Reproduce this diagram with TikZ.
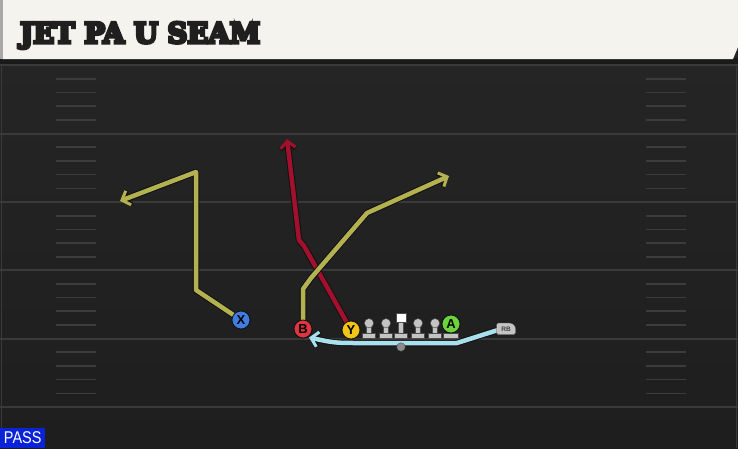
\documentclass[tikz,border=0pt]{standalone}
\usepackage{fontspec}
\usepackage{graphicx}
\setmainfont{Liberation Sans}
\newfontfamily\titlefont{DejaVu Serif}
\usetikzlibrary{arrows.meta}
\definecolor{fieldtop}{HTML}{262626}
\definecolor{fieldbot}{HTML}{1E1E1E}
\definecolor{yardc}{HTML}{3A3A3A}
\definecolor{hashc}{HTML}{3C3C3C}
\definecolor{cream}{HTML}{F5F3EE}
\definecolor{stripc}{HTML}{1A1A1A}
\definecolor{edgec}{HTML}{A8A8A8}
\definecolor{routeyel}{HTML}{B3B150}
\definecolor{routered}{HTML}{A3102E}
\definecolor{routeblue}{HTML}{A8E0EE}
\definecolor{outlinec}{HTML}{111111}
\definecolor{xblue}{HTML}{3F7EE0}
\definecolor{bred}{HTML}{E0343F}
\definecolor{yyel}{HTML}{F2C318}
\definecolor{agreen}{HTML}{6AD43A}
\definecolor{linegrey}{HTML}{C4C4C4}
\definecolor{passblue}{HTML}{0A22D8}
\tikzset{
  route/.style={line width=4.5pt, line join=round, line cap=round,
    preaction={draw=outlinec, line width=6.5pt, line join=round,
      -{Straight Barb[length=7pt,width=15pt,line width=4.5pt]}}},
  tip/.style={-{Straight Barb[length=7pt,width=15pt,line width=3pt]}},
  player/.style={circle, draw=outlinec, line width=0.8pt, minimum size=18pt,
    inner sep=0pt, font=\bfseries\fontsize{13}{13}\selectfont, text=black},
  yard/.style={draw=yardc, line width=2pt},
  hashm/.style={draw=hashc, line width=1.6pt},
  olm/.style={fill=linegrey, draw=black!70, line width=0.4pt}
}
\newcommand{\olman}[1]{%
  \fill[olm] (#1-6.5,333) rectangle (#1+6.5,337.8);
  \fill[olm] (#1-2.5,325) rectangle (#1+2.5,333.2);
  \fill[olm] (#1,323.2) circle (4.6pt);
}
\begin{document}
\begin{tikzpicture}[x=1pt,y=-1pt]
\useasboundingbox (0,0) rectangle (738,448);
% field
\shade[top color=fieldtop, bottom color=fieldbot] (0,0) rectangle (738,448);
\foreach \y in {65,133.5,202,270,338.5,407} \draw[yard] (0,\y) -- (738,\y);
\foreach \y in {65,133.5,202,270,338.5}
  \foreach \k in {0.2,0.4,0.6,0.8} {
    \draw[hashm] (56,\y+68.5*\k) -- (96,\y+68.5*\k);
    \draw[hashm] (646,\y+68.5*\k) -- (686,\y+68.5*\k);
  }
\draw[draw=yardc, line width=1.5pt] (1.5,63) -- (1.5,448);
\draw[draw=yardc, line width=1.5pt] (736.5,63) -- (736.5,448);
% title bar
\fill[stripc] (0,58) rectangle (738,64);
\fill[cream] (2,0) -- (738,0) -- (738,47) -- (733,59) -- (2,59) -- cycle;
\fill[edgec] (0,0) rectangle (2.5,59);
\node[anchor=base west, inner sep=0pt, text=black!88] (title) at (20,43)
  {\resizebox{240pt}{21pt}{\titlefont\bfseries\special{pdf:literal direct 1.1 w 2 Tr}JET PA U SEAM\special{pdf:literal direct 0 Tr}}};
% players
\node[player, fill=xblue] (X) at (241,320) {X};
\node[player, fill=bred] (B) at (303,329) {B};
\node[player, fill=yyel] (Y) at (351,330) {Y};
\node[player, fill=agreen] (A) at (451,324) {A};
\node[inner sep=0pt, font=\bfseries\fontsize{6.5}{6.5}\selectfont, text=black!75] (RB) at (506,329) {RB};
% route points
\coordinate (x1) at (196,290);
\coordinate (x2) at (196,172);
\coordinate (x3) at (120,201);
\coordinate (r1) at (304,246);
\coordinate (r2) at (299,240);
\coordinate (r3) at (287,139);
\coordinate (b1) at (303,289);
\coordinate (b2) at (311,278);
\coordinate (b3) at (367,213);
\coordinate (b4) at (449,176);
\coordinate (h1) at (457,343);
\coordinate (h2) at (362,343);
\coordinate (h3) at (309,337.5);
% routes
\draw[route, draw=routeyel, tip] (X) -- (x1) -- (x2) -- (x3);
\draw[route, draw=routered, tip] (Y) -- (r1) -- (r2) -- (r3);
\draw[route, draw=routeyel, tip] (B) -- (b1) -- (b2) -- (b3) -- (b4);
\draw[route, draw=routeblue, tip] (RB.west) -- (h1) -- (h2) .. controls (335,343) .. (h3);
% redraw players on top
\node[player, fill=xblue] at (X) {X};
\node[player, fill=bred] at (B) {B};
\node[player, fill=yyel] at (Y) {Y};
% linemen
\olman{369}
\olman{386}
\olman{418}
\olman{435}
\fill[olm] (394.5,333) rectangle (407.5,337.8);
\fill[olm] (398.5,322) rectangle (403.5,333.2);
\fill[fill=white, draw=black!70, line width=0.4pt] (396,313.5) rectangle (406,322.5);
\fill[olm] (443.5,333) rectangle (458.5,337.8);
\node[player, fill=agreen] at (A) {A};
% RB icon
\fill[fill=linegrey, draw=black!70, line width=0.4pt, rounded corners=1.5pt]
  (496.5,334.5) -- (496.5,323) -- (508,323) .. controls (513,323) and (515.5,326) .. (515.5,330) -- (515.5,334.5) -- cycle;
\node[inner sep=0pt, font=\bfseries\fontsize{6.5}{6.5}\selectfont, text=black!75] at (RB) {RB};
% ball
\node[circle, fill=black!45, draw=black!70, line width=0.4pt, minimum size=8.5pt, inner sep=0pt] (ball) at (401,347) {};
% pass label
\node[fill=passblue, text=white, anchor=south west, minimum width=45pt, minimum height=20pt,
  inner sep=0pt, font=\fontsize{17}{17}\selectfont] (pass) at (0,448) {\scalebox{0.85}[1]{PASS}};
\end{tikzpicture}
\end{document}
